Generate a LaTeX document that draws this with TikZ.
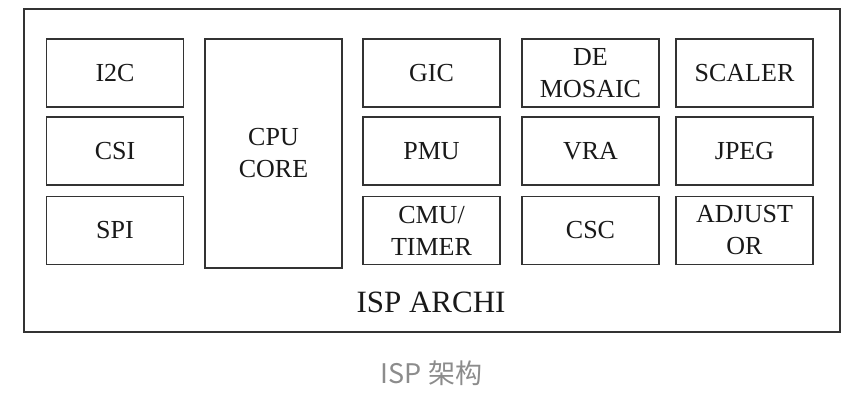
\documentclass[tikz,border=0pt]{standalone}
\usepackage{fontspec}
\setmainfont{Liberation Serif}
\newfontfamily\cjk{Noto Sans CJK SC}
\begin{document}
\begin{tikzpicture}[x=1pt,y=-1pt,
  blk/.style={draw=black!80,line width=1.8pt,minimum width=137pt,minimum height=68pt,inner sep=0pt,
    align=center,font=\fontsize{26}{32}\selectfont,text=black!90},
  lbl/.style={inner sep=0pt,anchor=base,font=\fontsize{31}{36}\selectfont,text=black!90},
  captext/.style={inner sep=0pt,anchor=base,font=\cjk\fontsize{27}{32}\selectfont,text=black!45}]
\useasboundingbox (0,0) rectangle (854,402);
\node[draw=black!80,line width=1.8pt,minimum width=816pt,minimum height=323pt,inner sep=0pt] (outer) at (432,170.5) {};
% column 1
\node[blk] (i2c) at (115,73) {I2C};
\node[blk] (csi) at (115,151) {CSI};
\node[blk] (spi) at (115,230.5) {SPI};
% CPU
\node[blk,minimum height=229pt] (cpu) at (273.5,153.5) {CPU\\CORE};
% column 3
\node[blk] (gic) at (431.5,73) {GIC};
\node[blk] (pmu) at (431.5,151) {PMU};
\node[blk] (cmu) at (431.5,230.5) {CMU/\\TIMER};
% column 4
\node[blk] (demosaic) at (590.5,73) {DE\\MOSAIC};
\node[blk] (vra) at (590.5,151) {VRA};
\node[blk] (csc) at (590.5,230.5) {CSC};
% column 5
\node[blk] (scaler) at (744.5,73) {SCALER};
\node[blk] (jpeg) at (744.5,151) {JPEG};
\node[blk] (adjust) at (744.5,230.5) {ADJUST\\OR};
\node[lbl] (archi) at (431,312) {ISP ARCHI};
\node[captext] (caption) at (431.5,383) {ISP 架构};
\end{tikzpicture}
\end{document}
